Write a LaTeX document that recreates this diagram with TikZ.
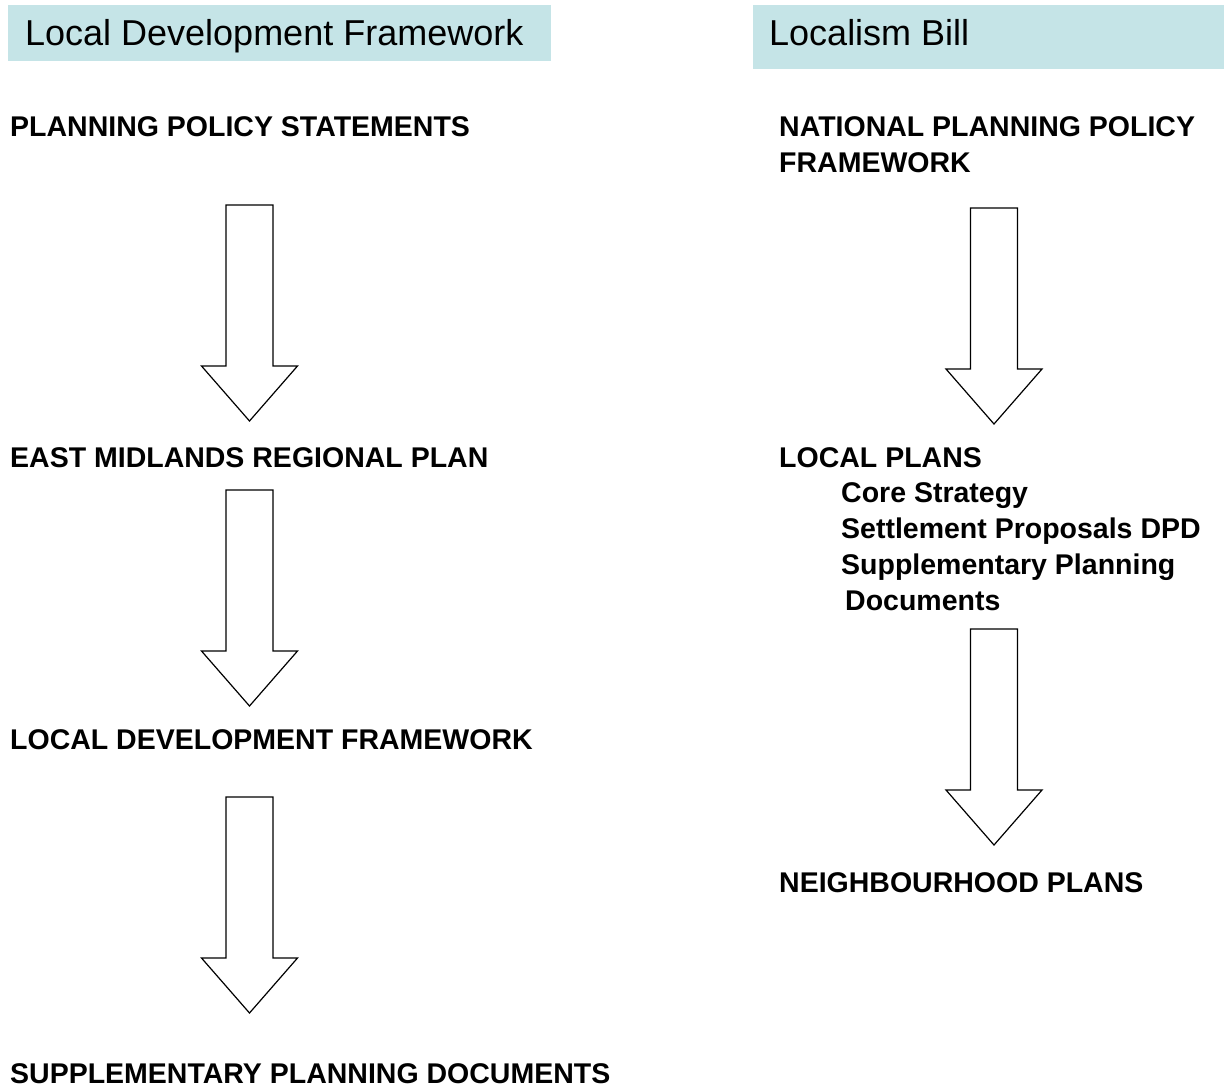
\documentclass[tikz,border=0pt]{standalone}
\usepackage{fontspec}
\setmainfont{Liberation Sans}
\definecolor{headfill}{RGB}{197,228,231}
\tikzset{
  heading/.style={anchor=base west, inner sep=0pt, font=\fontsize{36}{40}\selectfont},
  level/.style={anchor=base west, inner sep=0pt, font=\fontsize{28.5}{36}\selectfont\bfseries},
  blockarrow/.style={draw=black, line width=1.2pt, fill=white, line join=miter},
}
\begin{document}
\begin{tikzpicture}[x=1pt, y=-1pt]
    \useasboundingbox (0,0) rectangle (1224,1090);

    % 标题栏
    \fill[headfill] (8,5) rectangle (551,61);
    \fill[headfill] (753,5) rectangle (1224,69);
    \node[heading] (ldfhead) at (25,45) {Local Development Framework};
    \node[heading] (billhead) at (769,45) {Localism Bill};

    % 左列
    \node[level] (pps) at (10,136) {PLANNING POLICY STATEMENTS};
    \node[level] (emrp) at (10,467) {EAST MIDLANDS REGIONAL PLAN};
    \node[level] (ldf) at (10,749) {LOCAL DEVELOPMENT FRAMEWORK};
    \node[level] (spd) at (10,1083) {SUPPLEMENTARY PLANNING DOCUMENTS};

    % 右列
    \node[level] (nppf) at (779,136) {NATIONAL PLANNING POLICY};
    \node[level] (nppf2) at (779,172) {FRAMEWORK};
    \node[level] (lp) at (779,467) {LOCAL PLANS};
    \node[level] (core) at (841,502) {Core Strategy};
    \node[level] (settle) at (841,538) {Settlement Proposals DPD};
    \node[level] (supp) at (841,574) {Supplementary Planning};
    \node[level] (supp2) at (845,610) {Documents};
    \node[level] (np) at (779,892) {NEIGHBOURHOOD PLANS};

    % 空心箭头
    \foreach \cx/\ya/\yb in {249.5/205/421, 249.5/490/706, 249.5/797/1013,
                             994/208/424, 994/629/845}
        \draw[blockarrow] (\cx-23.5,\ya) -- (\cx+23.5,\ya) -- (\cx+23.5,\yb-55)
            -- (\cx+48,\yb-55) -- (\cx,\yb) -- (\cx-48,\yb-55)
            -- (\cx-23.5,\yb-55) -- cycle;
\end{tikzpicture}
\end{document}
